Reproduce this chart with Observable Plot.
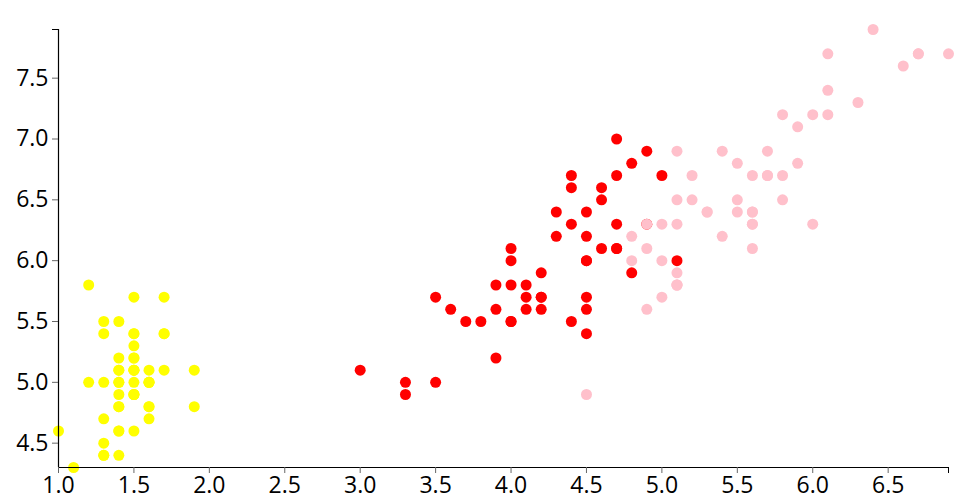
<!DOCTYPE html>
<html>
<head>
<meta charset="utf-8">
<script src="https://cdn.jsdelivr.net/npm/d3@7"></script>
<script src="https://cdn.jsdelivr.net/npm/@observablehq/plot@0.6"></script>
<style>
  html, body { margin: 0; padding: 0; background: #fff; }
</style>
</head>
<body>
<div id="chart"></div>
<script>
const species = ["setosa", "versicolor", "virginica"];
const colors = ["yellow", "red", "pink"];

const setosaPetalLength = [1.4,1.4,1.3,1.5,1.4,1.7,1.4,1.5,1.4,1.5,1.5,1.6,1.4,1.1,1.2,1.5,1.3,1.4,1.7,1.5,1.7,1.5,1.0,1.7,1.9,1.6,1.6,1.5,1.4,1.6,1.6,1.5,1.5,1.4,1.5,1.2,1.3,1.5,1.3,1.5,1.3,1.3,1.3,1.6,1.9,1.4,1.6,1.4,1.5,1.4];
const setosaSepalLength = [5.1,4.9,4.7,4.6,5.0,5.4,4.6,5.0,4.4,4.9,5.4,4.8,4.8,4.3,5.8,5.7,5.4,5.1,5.7,5.1,5.4,5.1,4.6,5.1,4.8,5.0,5.0,5.2,5.2,4.7,4.8,5.4,5.2,5.5,4.9,5.0,5.5,4.9,4.4,5.1,5.0,4.5,4.4,5.0,5.1,4.8,5.1,4.6,5.3,5.0];

const versicolorPetalLength = [4.7,4.5,4.9,4.0,4.6,4.5,4.7,3.3,4.6,3.9,3.5,4.2,4.0,4.7,3.6,4.4,4.5,4.1,4.5,3.9,4.8,4.0,4.9,4.7,4.3,4.4,4.8,5.0,4.5,3.5,3.8,3.7,3.9,5.1,4.5,4.5,4.7,4.4,4.1,4.0,4.4,4.6,4.0,3.3,4.2,4.2,4.2,4.3,3.0,4.1];
const versicolorSepalLength = [7.0,6.4,6.9,5.5,6.5,5.7,6.3,4.9,6.6,5.2,5.0,5.9,6.0,6.1,5.6,6.7,5.6,5.8,6.2,5.6,5.9,6.1,6.3,6.1,6.4,6.6,6.8,6.7,6.0,5.7,5.5,5.5,5.8,6.0,5.4,6.0,6.7,6.3,5.6,5.5,5.5,6.1,5.8,5.0,5.6,5.7,5.7,6.2,5.1,5.7];

const virginicaPetalLength = [6.0,5.1,5.9,5.6,5.8,6.6,4.5,6.3,5.8,6.1,5.1,5.3,5.5,5.0,5.1,5.3,5.5,6.7,6.9,5.0,5.7,4.9,6.7,4.9,5.7,6.0,4.8,4.9,5.6,5.8,6.1,6.4,5.6,5.1,5.6,6.1,5.6,5.5,4.8,5.4,5.6,5.1,5.1,5.9,5.7,5.2,5.0,5.2,5.4,5.1];
const virginicaSepalLength = [6.3,5.8,7.1,6.3,6.5,7.6,4.9,7.3,6.7,7.2,6.5,6.4,6.8,5.7,5.8,6.4,6.5,7.7,7.7,6.0,6.9,5.6,7.7,6.3,6.7,7.2,6.2,6.1,6.4,7.2,7.4,7.9,6.4,6.3,6.1,7.7,6.3,6.4,6.0,6.9,6.7,6.9,5.8,6.8,6.7,6.7,6.3,6.5,6.2,5.9];

const xTicks = [1.0,1.5,2.0,2.5,3.0,3.5,4.0,4.5,5.0,5.5,6.0,6.5];
const yTicks = [4.5,5.0,5.5,6.0,6.5,7.0,7.5];

const sets = [
  [setosaPetalLength, setosaSepalLength],
  [versicolorPetalLength, versicolorSepalLength],
  [virginicaPetalLength, virginicaSepalLength]
];
const rows = [];
sets.forEach(([xs, ys], i) => xs.forEach((x, j) => rows.push({petal: x, sepal: ys[j], species: species[i]})));

const xDomain = [d3.min(rows, d => d.petal), d3.max(rows, d => d.petal)];
const yDomain = [d3.min(rows, d => d.sepal), d3.max(rows, d => d.sepal)];

const fmt = d3.format(".1f");

const chart = Plot.plot({
  width: 960,
  height: 500,
  marginLeft: 58,
  marginRight: 12,
  marginTop: 29,
  marginBottom: 33,
  style: {fontFamily: "'Open Sans', sans-serif", fontSize: "23px", background: "white", overflow: "visible", color: "black"},
  x: {domain: xDomain},
  y: {domain: yDomain},
  color: {domain: species, range: colors},
  marks: [
    Plot.dot(rows, {x: "petal", y: "sepal", fill: "species", r: 5.5, stroke: null}),
    Plot.ruleX([xDomain[0]], {stroke: "black", strokeWidth: 1.2}),
    Plot.ruleY([yDomain[0]], {stroke: "black", strokeWidth: 1.2}),
    Plot.axisX({ticks: xTicks, tickFormat: fmt, tickSize: 6, tickPadding: 3, fontSize: 23, label: null, stroke: "#666", fill: "black"}),
    Plot.axisX({ticks: [xDomain[1]], tickFormat: () => "", tickSize: 6, label: null, stroke: "black"}),
    Plot.axisY({ticks: yTicks, tickFormat: fmt, tickSize: 6, tickPadding: 4, fontSize: 23, label: null, stroke: "#666", fill: "black"}),
    Plot.axisY({ticks: [yDomain[1]], tickFormat: () => "", tickSize: 6, label: null, stroke: "black"})
  ]
});
document.getElementById("chart").appendChild(chart);
</script>
</body>
</html>
